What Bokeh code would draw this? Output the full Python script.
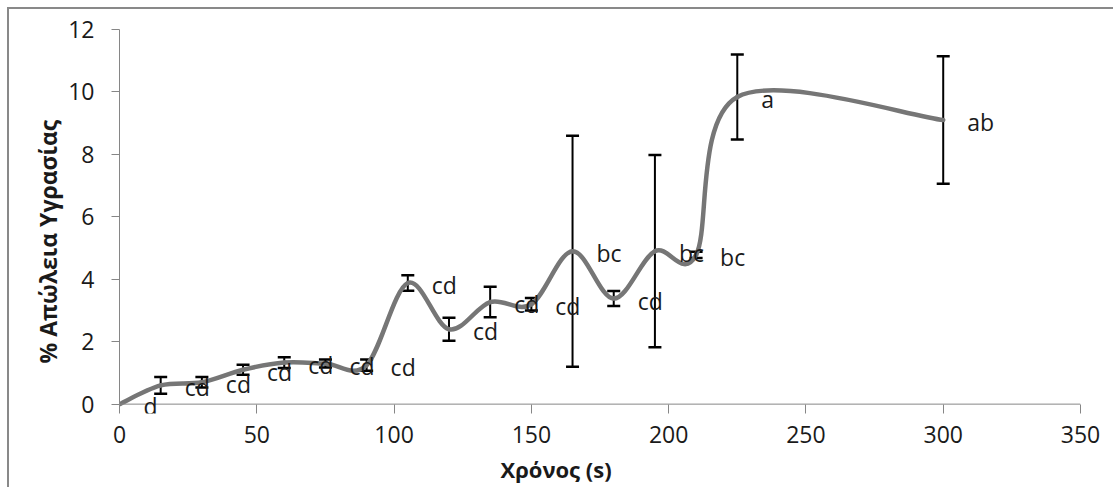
import numpy as np
from bokeh.plotting import figure
from bokeh.core.properties import value
from bokeh.models import (Range1d, FixedTicker, Whisker, TeeHead, LabelSet,
                          Title, Span, ColumnDataSource)
from bokeh.embed import file_html
from bokeh.resources import INLINE

# ---- data ----
time_s = [0, 15, 30, 45, 60, 75, 90, 105, 120, 135, 150, 165, 180, 195, 210, 225, 300]
moisture_loss = [0.0, 0.60, 0.70, 1.10, 1.33, 1.30, 1.25, 3.88, 2.40, 3.27, 3.20,
                 4.90, 3.38, 4.90, 4.78, 9.84, 9.10]
error = [0.0, 0.27, 0.17, 0.16, 0.17, 0.13, 0.18, 0.25, 0.37, 0.49, 0.20,
         3.70, 0.24, 3.08, 0.10, 1.36, 2.04]
letters = ["d", "cd", "cd", "cd", "cd", "cd", "cd", "cd", "cd", "cd", "cd",
           "bc", "cd", "bc", "bc", "a", "ab"]
x_ticks = [0, 50, 100, 150, 200, 250, 300, 350]
y_ticks = [0, 2, 4, 6, 8, 10, 12]
x_title = "Χρόνος (s)"
y_title = "% Απώλεια Υγρασίας"

FONT = "Open Sans"
TXT = "#1a1a1a"
AX = "#868686"

# The frame reaches a little below y=0 so that the lowest letter label is not
# clipped; the visible x-axis line is drawn at y=0 and the axis ticks point
# inward from the frame edge up to it.
p = figure(width=1106, height=480, output_backend="svg", toolbar_location=None,
           x_range=Range1d(0, 350), y_range=Range1d(-0.3, 12),
           min_border_left=110, min_border_right=35, min_border_top=20,
           min_border_bottom=76, margin=(7, 0, 0, 7),
           styles={"border-left": "2px solid #898989", "border-top": "2px solid #898989"})
p.background_fill_color = "white"
p.border_fill_color = "white"
p.outline_line_color = None
p.grid.visible = False

for ax in (p.xaxis[0], p.yaxis[0]):
    ax.axis_line_color = AX
    ax.major_tick_line_color = AX
    ax.minor_tick_line_color = None
    ax.major_label_text_font = FONT
    ax.major_label_text_font_size = "23px"
    ax.major_label_text_color = TXT
p.xaxis.ticker = FixedTicker(ticks=x_ticks)
p.yaxis.ticker = FixedTicker(ticks=y_ticks)
p.yaxis.bounds = (0, 12)
p.yaxis.major_tick_in = 0
p.yaxis.major_tick_out = 8
p.yaxis.major_label_standoff = 17
p.xaxis.axis_line_color = None
p.xaxis.major_tick_in = 9
p.xaxis.major_tick_out = 0
p.xaxis.major_label_standoff = 12
p.add_layout(Span(location=0, dimension="width", line_color=AX, line_width=1))

# ---- smooth line (Excel-style Bezier smoothing through the points) ----
X = np.array(time_s, float)
Y = np.array(moisture_loss, float)
n = len(X)
Xp = np.concatenate([[X[0]], X, [X[-1]]])
Yp = np.concatenate([[Y[0]], Y, [Y[-1]]])
i = np.arange(n - 1)
cx0 = X[:-1] + (Xp[i + 2] - Xp[i]) / 6
cy0 = Y[:-1] + (Yp[i + 2] - Yp[i]) / 6
cx1 = X[1:] - (Xp[i + 3] - Xp[i + 1]) / 6
cy1 = Y[1:] - (Yp[i + 3] - Yp[i + 1]) / 6
p.bezier(x0=X[:-1], y0=Y[:-1], x1=X[1:], y1=Y[1:], cx0=cx0, cy0=cy0, cx1=cx1, cy1=cy1,
         line_color="#767676", line_width=4.5, line_cap="round")

# ---- error bars ----
eb = [(t, m, e) for t, m, e in zip(time_s, moisture_loss, error) if e > 0]
esrc = ColumnDataSource(dict(x=[a for a, _, _ in eb],
                             upper=[m + e for _, m, e in eb],
                             lower=[m - e for _, m, e in eb]))
p.add_layout(Whisker(source=esrc, base="x", upper="upper", lower="lower",
                     dimension="height", line_color="black", line_width=2,
                     upper_head=TeeHead(size=13, line_width=2.5, line_color="black"),
                     lower_head=TeeHead(size=13, line_width=2.5, line_color="black")))

# ---- letter labels ----
lsrc = ColumnDataSource(dict(x=time_s, y=moisture_loss, t=letters))
p.add_layout(LabelSet(source=lsrc, x="x", y="y", text="t", x_offset=24, y_offset=-2,
                      text_align="left", text_baseline="middle", text_font=value(FONT),
                      text_font_size="23px", text_color=TXT))

# ---- axis titles ----
p.add_layout(Title(text=x_title, align="left", offset=381, text_font=FONT,
                   text_font_size="22px", text_font_style="bold", text_color=TXT,
                   standoff=12), "below")
p.add_layout(Title(text=y_title, align="left", offset=50, text_font=FONT,
                   text_font_size="23px", text_font_style="bold", text_color=TXT,
                   standoff=4), "left")

open("out.html", "w").write(file_html(p, INLINE))
